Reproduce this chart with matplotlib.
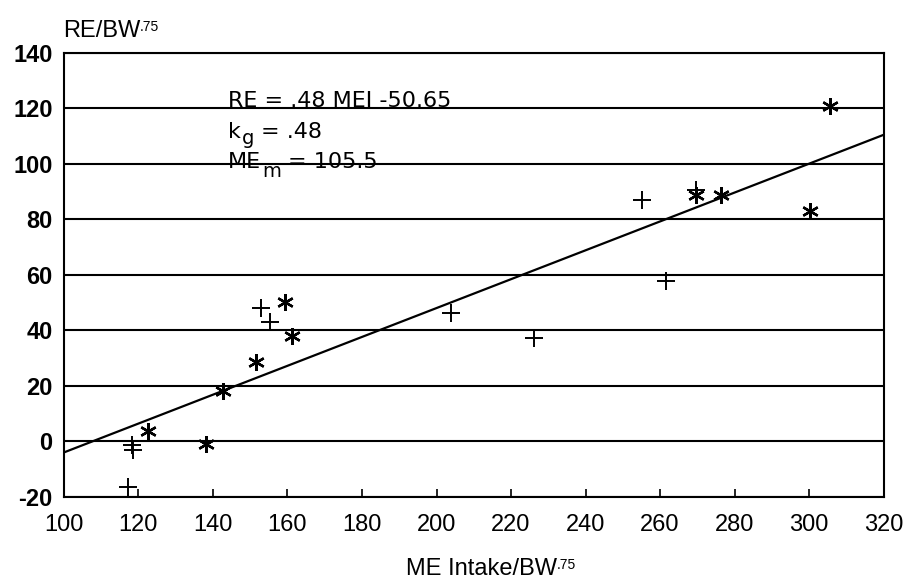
import matplotlib.pyplot as plt
from matplotlib.transforms import offset_copy

plt.rcParams['font.family'] = ['Liberation Sans', 'DejaVu Sans']
plt.rcParams['axes.unicode_minus'] = False

# Data
plus_x = [117.2, 118.2, 118.6, 153.0, 155.3, 204.0, 226.2, 255.1, 261.6, 269.5]
plus_y = [-16.4, -1.3, -3.1, 48.0, 43.2, 46.4, 37.4, 86.9, 57.8, 90.5]

star_x = [122.6, 138.1, 142.6, 151.5, 159.3, 161.3, 269.5, 276.3, 300.2, 305.5]
star_y = [3.9, -1.0, 18.2, 28.5, 50.2, 38.0, 88.8, 88.8, 83.1, 120.7]

fit_x = [100, 320]
fit_y = [-4.0, 110.5]

x_ticks = list(range(100, 321, 20))
y_ticks = list(range(-20, 141, 20))

fig = plt.figure(figsize=(9.12, 5.88), dpi=100)
ax = fig.add_axes([0.070, 0.155, 0.899, 0.755])

# horizontal grid lines
for yv in y_ticks:
    ax.axhline(yv, color='black', lw=1.5, zorder=1)

ax.plot(fit_x, fit_y, color='black', lw=1.6, zorder=2)
ax.plot(plus_x, plus_y, linestyle='none', marker='+', markersize=13,
        markeredgewidth=1.4, color='black', zorder=3)
ax.plot(star_x, star_y, linestyle='none', marker=(6, 2, 0), markersize=12,
        markeredgewidth=1.7, color='black', zorder=3)

ax.set_xlim(100, 320)
ax.set_ylim(-20, 140)
ax.set_xticks(x_ticks)
ax.set_yticks(y_ticks)
ax.tick_params(axis='x', direction='in', length=6, width=1.2, pad=12,
               labelsize=17)
ax.tick_params(axis='y', length=0, pad=8, labelsize=17)
for lab in ax.get_yticklabels():
    lab.set_fontweight('bold')
for sp in ax.spines.values():
    sp.set_linewidth(1.5)


def piece(x, y, s, size, dx=0, dy=0):
    # text shifted from a data point by some points (for subscripts)
    tr = offset_copy(ax.transData, fig=fig, x=dx, y=dy, units='points')
    ax.text(x, y, s, transform=tr, fontsize=size, ha='left', va='baseline',
            family=['DejaVu Sans'])


piece(144, 120.5, 'RE = .48 MEI -50.65', 16)
piece(144, 109.5, 'k', 16)
piece(144, 109.5, 'g', 14, dx=10, dy=-5)
piece(144, 109.5, '= .48', 16, dx=24)
piece(144, 98.7, 'ME', 16)
piece(144, 98.7, 'm', 14, dx=25, dy=-7)
piece(144, 98.7, '= 105.5', 16, dx=43)

re_lab = fig.text(0.069, 0.937, 'RE/BW', fontsize=17, ha='left', va='baseline')
fig.add_artist(plt.Annotation('.75', xy=(1, 0), xycoords=re_lab,
                              xytext=(0, 8), textcoords='offset points',
                              fontsize=10, ha='left', va='baseline'))

x_lab = fig.text(0.528, 0.022, 'ME Intake/BW', fontsize=17, ha='center',
                 va='baseline')
fig.add_artist(plt.Annotation('.75', xy=(1, 0), xycoords=x_lab,
                              xytext=(0, 8), textcoords='offset points',
                              fontsize=10, ha='left', va='baseline'))

fig.savefig('out.png', dpi=100)
